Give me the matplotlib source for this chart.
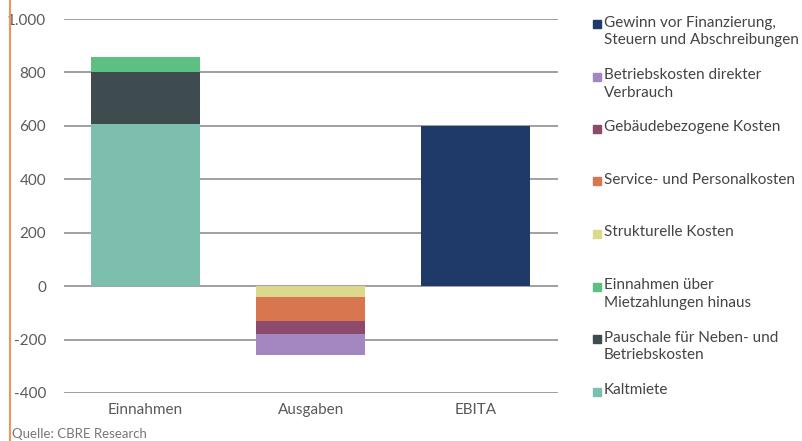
import matplotlib
matplotlib.use("Agg")
from matplotlib import pyplot as plt
from matplotlib.patches import Rectangle
from matplotlib.lines import Line2D
import numpy as np

plt.rcParams['font.family'] = ['Lato', 'DejaVu Sans']

categories = ['Einnahmen', 'Ausgaben', 'EBITA']

# positive stack (bottom to top)
kaltmiete = [607, 0, 0]
pauschale = [193, 0, 0]
einnahmen_ueber = [58, 0, 0]
gewinn = [0, 0, 600]
# negative stack, Ausgaben column (top to bottom)
strukturelle = [0, -40, 0]
service = [0, -91, 0]
gebaeude = [0, -49, 0]
betriebskosten = [0, -78, 0]

yticks = [1000, 800, 600, 400, 200, 0, -200, -400]
ytick_labels = ['1.000', '800', '600', '400', '200', '0', '-200', '-400']

legend_labels = [
    'Gewinn vor Finanzierung,\nSteuern und Abschreibungen',
    'Betriebskosten direkter\nVerbrauch',
    'Gebäudebezogene Kosten',
    'Service- und Personalkosten',
    'Strukturelle Kosten',
    'Einnahmen über\nMietzahlungen hinaus',
    'Pauschale für Neben- und\nBetriebskosten',
    'Kaltmiete',
]
legend_colors = ['#1f3a68', '#a487c0', '#8c4a6c', '#d8774f',
                 '#dcd88e', '#5ebf82', '#3e4c50', '#7dbfae']

fig = plt.figure(figsize=(8.03, 4.41), dpi=100)
ax = fig.add_axes([64 / 803, 48 / 441, 494 / 803, 374 / 441])

x = np.arange(len(categories))
w = 0.66

pos_series = [(kaltmiete, '#7dbfae'), (pauschale, '#3e4c50'),
              (einnahmen_ueber, '#5ebf82'), (gewinn, '#1f3a68')]
neg_series = [(strukturelle, '#dcd88e'), (service, '#d8774f'),
              (gebaeude, '#8c4a6c'), (betriebskosten, '#a487c0')]

bottom = np.zeros(3)
for vals, c in pos_series:
    v = np.array(vals, dtype=float)
    ax.bar(x, v, w, bottom=bottom, color=c, zorder=3)
    bottom += v
bottom = np.zeros(3)
for vals, c in neg_series:
    v = np.array(vals, dtype=float)
    ax.bar(x, v, w, bottom=bottom, color=c, zorder=3)
    bottom += v

for yt in yticks:
    ax.axhline(yt, color='#a0a0a0', lw=1.4, zorder=1)

ax.set_xlim(-0.495, 2.5)
ax.set_ylim(-400, 1000)
ax.set_yticks(yticks)
ax.set_yticklabels(ytick_labels)
ax.set_xticks(x)
ax.set_xticklabels(categories)
ax.tick_params(length=0, labelsize=11, colors='#5a5a5a')
ax.tick_params(axis='y', pad=13)
ax.tick_params(axis='x', pad=7)
for s in ax.spines.values():
    s.set_visible(False)

# legend, one entry per gridline row
for i, (lab, c) in enumerate(zip(legend_labels, legend_colors)):
    ty = 1 - (23.5 + i * 52.5) / 441
    fig.patches.append(Rectangle((593 / 803, ty - 4.5 / 441), 8 / 803, 8 / 441,
                                 transform=fig.transFigure, color=c))
    fig.text(604 / 803, ty + 8 / 441, lab, fontsize=11, color='#444444',
             va='top', ha='left', linespacing=1.35)

fig.text(12 / 803, 7 / 441, 'Quelle: CBRE Research', fontsize=9.5,
         color='#777777', ha='left', va='center')
fig.add_artist(Line2D([10 / 803, 10 / 803], [0, 1], transform=fig.transFigure,
                      color='#f39358', lw=1.5))

fig.savefig('out.png', dpi=100)
